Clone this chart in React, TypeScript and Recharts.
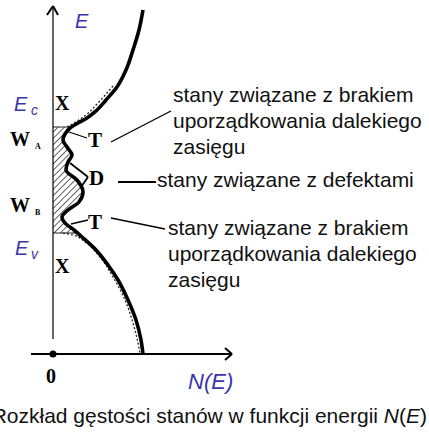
import React from "react";
import {
  ComposedChart,
  Line,
  Area,
  XAxis,
  YAxis,
  ReferenceLine,
  ReferenceDot,
} from "recharts";

const W = 429;
const H = 434;

// energy levels (arbitrary units, E = 0 on the N(E) axis)
const E_C = 22.7;
const E_V = 12.1;

// density of states N(E): band tails with the defect bump between them
const dosE = [34.4, 32.4, 30.4, 28.4, 26.7, 25.4, 24.4, 23.6, 23.1, 22.6, 22.0, 21.4, 20.7, 19.9, 19.2, 18.4, 17.4, 16.2, 15.2, 14.4, 13.7, 13.0, 12.4, 11.7, 10.4, 8.9, 7.4, 5.4, 3.4, 1.4, 0];
const dosN = [9.0, 8.6, 8.0, 7.3, 6.4, 5.3, 4.4, 3.4, 2.5, 1.7, 1.2, 1.0, 1.4, 1.9, 1.5, 1.3, 2.4, 3.0, 2.6, 1.5, 0.9, 1.3, 2.1, 2.9, 4.3, 5.5, 6.5, 7.5, 8.3, 8.8, 9.0];

// localized states inside the gap (hatched)
const gapE = [22.7, 22.6, 22.0, 21.4, 20.7, 19.9, 19.2, 18.4, 17.4, 16.2, 15.2, 14.4, 13.7, 13.0, 12.4, 12.1];
const gapN = [1.6, 1.7, 1.2, 1.0, 1.4, 1.9, 1.5, 1.3, 2.4, 3.0, 2.6, 1.5, 0.9, 1.3, 2.1, 2.5];

// ideal crystal band edges (dashed)
const bandCE = [26.8, 25.0, 23.9, 23.1, 22.7];
const bandCN = [6.0, 4.4, 3.3, 2.1, 1.4];
const bandVE = [12.1, 11.9, 11.2, 9.7, 7.7, 5.4, 3.1, 1.1, 0];
const bandVN = [1.0, 2.0, 3.2, 4.7, 6.0, 7.2, 8.0, 8.5, 8.7];

const zip = (es: number[], ns: number[]) => es.map((e, i) => ({ e, n: ns[i] }));

const dos = zip(dosE, dosN);
const gap = zip(gapE, gapN);
const bandC = zip(bandCE, bandCN);
const bandV = zip(bandVE, bandVN);

type Seg = [{ x: number; y: number }, { x: number; y: number }];
const seg = (x1: number, y1: number, x2: number, y2: number): Seg => [
  { x: x1, y: y1 },
  { x: x2, y: y2 },
];

const axisSegs: Seg[] = [
  seg(0, 1.5, 0, 34.8),
  seg(-0.6, 33.9, 0, 34.8),
  seg(0.5, 33.9, 0, 34.8),
  seg(-2.2, 0, 17.9, 0),
  seg(17.2, 0.6, 17.9, 0),
  seg(17.2, -0.6, 17.9, 0),
];

const leaderSegs: Seg[] = [
  seg(1.3, 22.3, 3.4, 21.6),
  seg(5.8, 21.2, 11.4, 24.1),
  seg(11.4, 24.1, 11.8, 24.3),
  seg(1.7, 19.1, 3.5, 17.7),
  seg(2.8, 16.7, 3.5, 17.7),
  seg(1.8, 13.0, 3.5, 13.4),
  seg(5.8, 13.6, 11.2, 12.5),
];

const edgeSegs: Seg[] = [seg(0, E_C, 1.6, E_C), seg(0, E_V, 2.5, E_V)];

const BLUE = "#3a35a8";
const SERIF = "'Liberation Serif', 'Times New Roman', serif";
const SANS = "'Liberation Sans', Arial, sans-serif";

const stateLabels = [
  { x: 173, y: 102, text: "stany związane z brakiem" },
  { x: 173, y: 128, text: "uporządkowania dalekiego" },
  { x: 173, y: 154, text: "zasięgu" },
  { x: 157, y: 187, text: "stany związane z defektami" },
  { x: 168, y: 235, text: "stany związane z brakiem" },
  { x: 168, y: 261, text: "uporządkowania dalekiego" },
  { x: 168, y: 287, text: "zasięgu" },
];

export default function App() {
  return (
    <div style={{ position: "absolute", left: 0, top: 0, width: W, height: H, background: "#fff" }}>
      <ComposedChart
        width={W}
        height={H}
        layout="vertical"
        margin={{ top: 0, right: 0, bottom: 0, left: 0 }}
      >
        <defs>
          <pattern
            id="hatch"
            patternUnits="userSpaceOnUse"
            width="4.5"
            height="4.5"
            patternTransform="rotate(45)"
          >
            <line x1="0" y1="0" x2="0" y2="4.5" stroke="#111" strokeWidth="1.3" />
          </pattern>
        </defs>
        <XAxis type="number" dataKey="n" domain={[-5.3, 37.6]} allowDataOverflow hide />
        <YAxis type="number" dataKey="e" domain={[-8, 35.4]} allowDataOverflow reversed hide />
        <Area
          data={gap}
          dataKey="n"
          type="monotone"
          baseValue={0}
          fill="url(#hatch)"
          fillOpacity={1}
          stroke="none"
          activeDot={false}
          isAnimationActive={false}
        />
        {edgeSegs.map((s, i) => (
          <ReferenceLine key={"edge" + i} segment={s} stroke="#222" strokeWidth={1} />
        ))}
        <Line
          data={bandC}
          dataKey="n"
          type="monotone"
          stroke="#222"
          strokeWidth={1.3}
          strokeDasharray="2 2"
          dot={false}
          activeDot={false}
          isAnimationActive={false}
        />
        <Line
          data={bandV}
          dataKey="n"
          type="monotone"
          stroke="#222"
          strokeWidth={1.3}
          strokeDasharray="2 2"
          dot={false}
          activeDot={false}
          isAnimationActive={false}
        />
        <Line
          data={dos}
          dataKey="n"
          type="monotone"
          stroke="#000"
          strokeWidth={3.6}
          dot={false}
          activeDot={false}
          isAnimationActive={false}
        />
        {axisSegs.map((s, i) => (
          <ReferenceLine
            key={"axis" + i}
            segment={s}
            stroke="#000"
            strokeWidth={i === 0 ? 1.2 : 2}
          />
        ))}
        {leaderSegs.map((s, i) => (
          <ReferenceLine key={"lead" + i} segment={s} stroke="#000" strokeWidth={i === 3 || i === 4 ? 1.8 : 1.3} />
        ))}
        <ReferenceLine segment={seg(6.5, 17.2, 10.3, 17.2)} stroke="#000" strokeWidth={2} />
        <ReferenceDot x={0} y={0} r={3.5} fill="#000" stroke="none" />
      </ComposedChart>

      <svg
        width={W}
        height={H}
        style={{ position: "absolute", left: 0, top: 0, pointerEvents: "none" }}
      >
        <g fontFamily={SANS} fontStyle="italic" fill={BLUE}>
          <text x={75} y={28} fontSize={20}>E</text>
          <text x={14} y={111} fontSize={20}>E</text>
          <text x={31} y={115} fontSize={14}>c</text>
          <text x={15} y={255} fontSize={20}>E</text>
          <text x={31} y={259} fontSize={14}>v</text>
          <text x={188} y={389} fontSize={22}>N(E)</text>
        </g>
        <g fontFamily={SERIF} fontWeight="bold" fill="#000">
          <text x={55} y={110} fontSize={20}>X</text>
          <text x={55} y={273} fontSize={20}>X</text>
          <text x={10} y={146} fontSize={20}>W</text>
          <text x={35} y={149} fontSize={8}>A</text>
          <text x={10} y={212} fontSize={20}>W</text>
          <text x={35} y={215} fontSize={8}>B</text>
          <text x={51} y={383} fontSize={20} textAnchor="middle">0</text>
          <text x={88} y={147} fontSize={21}>T</text>
          <text x={89} y={185} fontSize={21}>D</text>
          <text x={88} y={229} fontSize={21}>T</text>
        </g>
        <g fontFamily={SANS} fontSize={21} fill="#111">
          {stateLabels.map((l, i) => (
            <text key={i} x={l.x} y={l.y}>{l.text}</text>
          ))}
          <text x={427} y={423} textAnchor="end">
            Rozkład gęstości stanów w funkcji energii <tspan fontStyle="italic">N</tspan>(<tspan fontStyle="italic">E</tspan>)
          </text>
        </g>
      </svg>
    </div>
  );
}
